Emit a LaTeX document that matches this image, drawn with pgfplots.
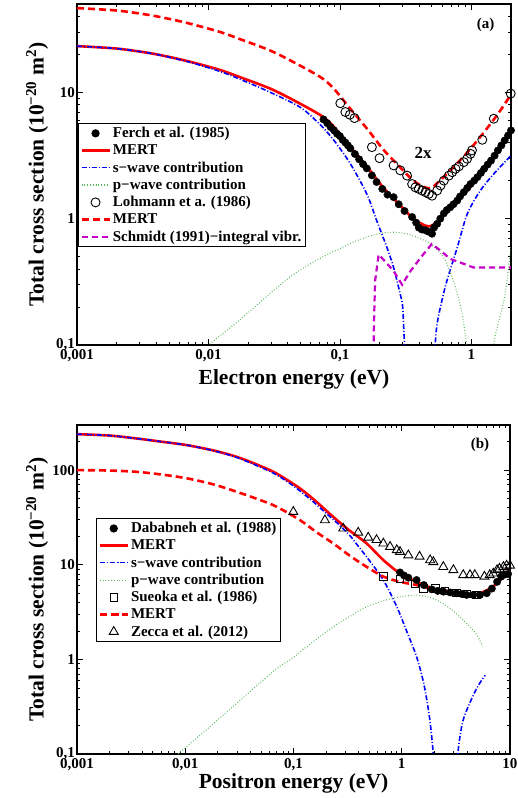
\documentclass[border=0pt]{standalone}
\usepackage{pgfplots}
\pgfplotsset{compat=1.18}
\usepackage{fontspec}
\setmainfont{Liberation Serif}
\definecolor{pgreen}{rgb}{0.35,0.72,0.35}
\definecolor{pmag}{rgb}{0.78,0,0.78}
\tikzset{
  mert/.style={red, line width=2.6pt, smooth},
  mertd/.style={red, line width=2.6pt, dash pattern=on 7pt off 4pt, smooth},
  swave/.style={blue, line width=1.6pt, dash pattern=on 5pt off 2pt on 1pt off 2pt, smooth},
  pwave/.style={pgreen, line width=1.1pt, dash pattern=on 0.8pt off 2pt, smooth},
  schm/.style={pmag, line width=2.2pt, dash pattern=on 6pt off 4pt},
}
\pgfplotsset{
  every axis/.append style={
    scale only axis,
    axis line style={line width=1.1pt},
    every tick/.style={black, line width=0.7pt},
    major tick length=6pt, minor tick length=3pt,
    tick align=inside,
    ticklabel style={font=\bfseries\fontsize{15}{15}\selectfont},
    xticklabel style={inner sep=2pt, yshift=-2pt},
    yticklabel style={inner sep=2pt},
    label style={font=\bfseries\fontsize{21.5}{23}\selectfont},
    ylabel style={at={(axis description cs:-0.092,0.5)}, anchor=center},
    legend style={font=\bfseries\fontsize{15}{16}\selectfont, draw=black, line width=0.8pt, row sep=1.5pt, inner sep=2pt, cells={anchor=west}},
    legend image code/.code={\draw[mark repeat=2,mark phase=2,#1] plot coordinates {(0pt,0pt) (14pt,0pt) (28pt,0pt)};},
  },
}
\begin{document}
\begin{tikzpicture}
\useasboundingbox (0pt,0pt) rectangle (517pt,798pt);
% ---------------- panel (a)
\begin{axis}[xmode=log, ymode=log,
  at={(77pt,453pt)}, anchor=south west,
  width=434pt, height=341pt,
  xmin=0.001, xmax=2, ymin=0.1, ymax=50,
  xtick={0.001,0.01,0.1,1}, xticklabels={{0,001},{0,01},{0,1},1},
  minor xtick={0.002,0.003,0.004,0.005,0.006,0.007,0.008,0.009,0.02,0.03,0.04,0.05,0.06,0.07,0.08,0.09,0.2,0.3,0.4,0.5,0.6,0.7,0.8,0.9},
  ytick={0.1,1,10}, yticklabels={{0,1},1,10},
  minor ytick={0.2,0.3,0.4,0.5,0.6,0.7,0.8,0.9,2,3,4,5,6,7,8,9,20,30,40},
  xlabel={Electron energy (eV)},
  ylabel={Total cross section (10\textsuperscript{−20} m\textsuperscript{2})},
  xlabel style={at={(axis description cs:0.5,-0.1)}, anchor=center},
  legend style={at={(0.002,0.651)}, anchor=north west},
]
\addplot[only marks, mark=*, mark size=3.7pt, black] coordinates {
(0.075,6.1)(0.08,5.7)(0.085,5.3)(0.09,5.0)(0.095,4.7)(0.1,4.5)(0.105,4.2)(0.11,4.0)(0.115,3.8)(0.12,3.6)(0.13,3.25)(0.14,2.95)(0.15,2.7)(0.16,2.5)(0.175,2.2)(0.19,1.95)(0.21,1.72)(0.23,1.55)(0.256,1.48)(0.28,1.3)(0.31,1.15)(0.354,1.03)(0.38,0.93)(0.398,0.85)(0.42,0.82)(0.447,0.81)(0.47,0.79)(0.502,0.76)(0.52,0.85)(0.549,0.91)(0.58,1.0)(0.617,1.1)(0.65,1.17)(0.69,1.23)(0.73,1.3)(0.78,1.39)(0.82,1.5)(0.875,1.62)(0.93,1.75)(0.984,1.88)(1.05,2.0)(1.11,2.13)(1.18,2.3)(1.25,2.48)(1.33,2.68)(1.41,2.88)(1.5,3.15)(1.59,3.47)(1.69,3.8)(1.79,4.16)(1.9,4.55)(2.0,4.99)};
\addlegendentry{Ferch et al. (1985)}
\addplot[mert] coordinates {
(0.001,23.2)(0.002,22.2)(0.0035,20.5)(0.0051,19.0)(0.0075,17.3)(0.0123,15.0)(0.018,13.0)(0.0295,10.7)(0.045,8.6)(0.071,6.6)(0.089,5.4)(0.12,3.7)(0.162,2.55)(0.214,1.76)(0.288,1.27)(0.362,1.0)(0.447,0.88)(0.50,0.88)(0.552,0.96)(0.69,1.2)(0.93,1.67)(1.24,2.4)(1.6,3.4)(2.0,4.8)};
\addlegendentry{MERT}
\addplot[swave] coordinates {
(0.001,23.2)(0.002,22.2)(0.0035,20.5)(0.0051,18.9)(0.0075,17.1)(0.0123,14.6)(0.018,12.5)(0.0295,10.0)(0.05,7.6)(0.07,5.6)(0.0895,4.2)(0.12,2.72)(0.16,1.57)(0.19,0.97)(0.228,0.59)(0.256,0.41)(0.288,0.25)(0.30,0.2)(0.31,0.1)(0.33,0.04)(0.4,0.003)(0.48,0.03)(0.525,0.09)(0.545,0.14)(0.58,0.198)(0.65,0.32)(0.78,0.59)(0.93,1.09)(1.17,1.67)(1.48,2.26)(2.0,3.16)};
\addlegendentry{s−wave contribution}
\addplot[pwave] coordinates {
(0.0095,0.095)(0.01,0.1)(0.015,0.14)(0.02,0.18)(0.03,0.26)(0.044,0.36)(0.06,0.44)(0.08,0.52)(0.1,0.58)(0.13,0.66)(0.17,0.73)(0.21,0.77)(0.26,0.78)(0.32,0.76)(0.4,0.70)(0.49,0.63)(0.617,0.49)(0.73,0.32)(0.83,0.2)(0.9,0.12)(0.95,0.07)(1.1,0.01)(1.3,0.02)(1.45,0.08)(1.52,0.12)(1.79,0.24)(2.0,0.6)};
\addlegendentry{p−wave contribution}
\addplot[only marks, mark=o, mark size=4.5pt, black, line width=0.9pt] coordinates {
(0.1007,8.2)(0.110,6.98)(0.119,6.65)(0.129,6.25)(0.175,3.68)(0.2,3.01)(0.256,2.64)(0.288,2.41)(0.324,2.19)(0.354,1.88)(0.375,1.77)(0.398,1.72)(0.422,1.67)(0.447,1.62)(0.474,1.57)(0.502,1.52)(0.549,1.67)(0.582,1.83)(0.617,2.0)(0.673,2.19)(0.714,2.33)(0.757,2.48)(0.802,2.59)(0.875,2.80)(0.928,2.98)(0.984,3.26)(1.01,3.47)(1.21,4.21)(1.48,6.18)(1.99,9.77)};
\addlegendentry{Lohmann et a. (1986)}
\addplot[mertd] coordinates {
(0.001,46.4)(0.002,44.4)(0.0035,41)(0.0051,38)(0.0075,34.6)(0.0123,30)(0.018,26)(0.0295,21.4)(0.045,17.2)(0.071,13.2)(0.089,10.8)(0.12,7.4)(0.162,5.1)(0.214,3.52)(0.288,2.54)(0.362,2.0)(0.447,1.76)(0.50,1.76)(0.552,1.92)(0.69,2.4)(0.93,3.34)(1.24,4.8)(1.6,6.8)(2.0,9.6)};
\addlegendentry{MERT}
\addplot[schm] coordinates {
(0.178,0.01)(0.181,0.13)(0.185,0.32)(0.197,0.52)(0.22,0.46)(0.256,0.385)(0.297,0.30)(0.344,0.385)(0.41,0.49)(0.50,0.63)(0.58,0.56)(0.69,0.48)(0.87,0.44)(1.04,0.41)(2.0,0.41)};
\addlegendentry{Schmidt (1991)−integral vibr.}
\node[font=\bfseries\fontsize{17}{17}\selectfont] at (axis cs:0.43,3.34) {2x};
\node[font=\bfseries\fontsize{15}{15}\selectfont] at (axis cs:1.28,34) {(a)};
\end{axis}
% ---------------- panel (b)
\begin{axis}[xmode=log, ymode=log,
  at={(77pt,44pt)}, anchor=south west,
  width=433pt, height=329pt,
  xmin=0.001, xmax=10, ymin=0.1, ymax=300,
  xtick={0.001,0.01,0.1,1,10}, xticklabels={{0,001},{0,01},{0,1},1,10},
  minor xtick={0.002,0.003,0.004,0.005,0.006,0.007,0.008,0.009,0.02,0.03,0.04,0.05,0.06,0.07,0.08,0.09,0.2,0.3,0.4,0.5,0.6,0.7,0.8,0.9,2,3,4,5,6,7,8,9},
  ytick={0.1,1,10,100}, yticklabels={{0,1},1,10,100},
  minor ytick={0.2,0.3,0.4,0.5,0.6,0.7,0.8,0.9,2,3,4,5,6,7,8,9,20,30,40,50,60,70,80,90,200},
  xlabel={Positron energy (eV)},
  ylabel={Total cross section (10\textsuperscript{−20} m\textsuperscript{2})},
  xlabel style={at={(axis description cs:0.5,-0.088)}, anchor=center},
  legend style={at={(0.044,0.717)}, anchor=north west},
]
\addplot[only marks, mark=*, mark size=3.7pt, black] coordinates {
(0.964,8.3)(1.05,7.7)(1.15,7.3)(1.37,6.9)(1.6,6.1)(1.89,5.5)(2.15,5.3)(2.42,5.2)(2.8,5.1)(3.2,5.0)(3.6,4.9)(3.98,4.8)(4.58,4.8)(5.28,4.8)(6.1,5.0)(6.8,5.6)(7.6,6.6)(8.3,7.5)(9.0,7.9)(9.6,8.0)};
\addlegendentry{Dababneh et al. (1988)}
\addplot[mert] coordinates {
(0.001,240)(0.002,232)(0.00356,216)(0.006,200)(0.0103,184)(0.018,162)(0.03,138)(0.05,110)(0.07,92)(0.115,64)(0.164,46)(0.233,32)(0.33,23)(0.474,16.8)(0.676,11.2)(0.964,8.1)(1.37,6.6)(1.96,5.6)(2.79,5.2)(3.98,4.8)(5.28,5.0)(7.0,5.9)(9.3,8.1)(10,8.6)};
\addlegendentry{MERT}
\addplot[swave] coordinates {
(0.001,240)(0.002,232)(0.00356,216)(0.006,200)(0.0103,184)(0.018,161)(0.03,136)(0.05,107)(0.07,89)(0.1,68)(0.15,47)(0.2,35)(0.25,28)(0.33,20.5)(0.4,15.5)(0.474,12.1)(0.676,6.9)(0.9,3.6)(1.1,2.04)(1.37,1.07)(1.6,0.55)(1.8,0.25)(1.93,0.12)(2.0,0.07)(2.5,0.005)(3.2,0.06)(3.35,0.12)(3.7,0.23)(4.5,0.4)(5.2,0.55)(5.9,0.68)};
\addlegendentry{s−wave contribution}
\addplot[pwave] coordinates {
(0.0086,0.1)(0.01,0.116)(0.02,0.23)(0.04,0.46)(0.07,0.8)(0.1,1.05)(0.132,1.36)(0.233,2.21)(0.35,2.95)(0.474,3.6)(0.7,4.2)(0.964,4.58)(1.37,4.78)(1.96,4.4)(2.79,3.46)(3.98,2.4)(4.8,1.9)(5.6,1.38)};
\addlegendentry{p−wave contribution}
\addplot[only marks, mark=square, mark size=3.7pt, black, line width=0.9pt] coordinates {
(0.676,7.5)(0.964,7.1)(1.33,6.3)(1.58,5.6)(2.04,5.6)(2.5,5.3)(3.2,5.0)(3.98,4.9)(4.9,4.8)};
\addlegendentry{Sueoka et al. (1986)}
\addplot[mertd] coordinates {
(0.001,100)(0.002,99)(0.00356,96)(0.006,90)(0.0103,82)(0.018,71)(0.03,59)(0.05,48)(0.07,41)(0.115,29.6)(0.164,22)(0.233,16.8)(0.33,12.5)(0.474,9.5)(0.676,7.5)(0.964,6.6)(1.37,6.1)(1.96,5.5)(2.79,5.1)(3.98,4.8)(5.28,4.9)(6.0,5.1)};
\addlegendentry{MERT}
\addplot[only marks, mark=triangle, mark size=5.2pt, black, line width=0.9pt] coordinates {
(0.0996,36.3)(0.195,29.6)(0.288,24.2)(0.396,21.9)(0.49,19.4)(0.585,18.3)(0.676,16.8)(0.78,15.5)(0.90,14.3)(0.964,13.7)(1.15,12.6)(1.46,12.2)(1.83,11.2)(1.96,10.7)(2.42,9.5)(3.0,8.8)(3.7,7.8)(4.27,7.8)(4.73,7.8)(5.8,7.5)(6.5,7.8)(7.0,8.1)(7.6,8.8)(8.0,9.1)(8.7,9.5)(9.3,9.8)(10,9.8)};
\addlegendentry{Zecca et al. (2012)}
\node[font=\bfseries\fontsize{15}{15}\selectfont] at (axis cs:5.28,184) {(b)};
\end{axis}
\end{tikzpicture}
\end{document}
